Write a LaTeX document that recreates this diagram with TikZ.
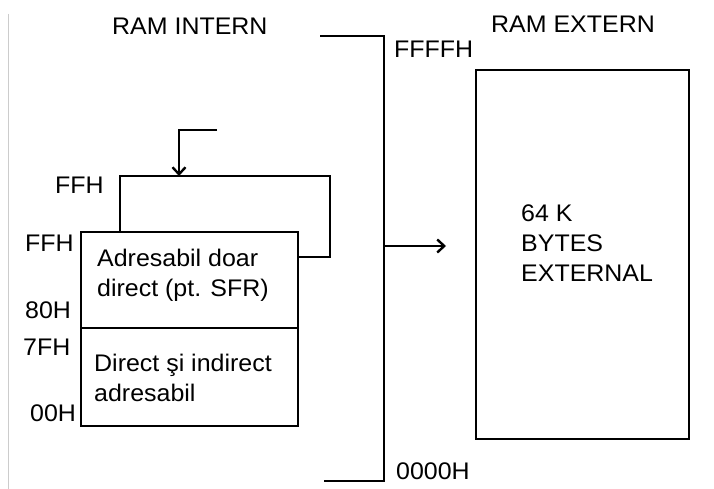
\documentclass[tikz,border=0pt]{standalone}
\usepackage{fontspec}
\newfontfamily\diafont[FakeStretch=1.04]{Liberation Sans}
\usetikzlibrary{arrows.meta}
\tikzset{
  ln/.style={line width=2pt, black},
  lbl/.style={anchor=base west, inner sep=0pt, font=\diafont\fontsize{24}{28}\selectfont},
  memcell/.style={draw, line width=2pt, inner sep=0pt},
  tip/.style={-{Straight Barb[length=7pt,width=13pt,line width=2.4pt]}}
}
\begin{document}
\begin{tikzpicture}[x=1pt,y=-1pt]
\useasboundingbox (0,0) rectangle (714,489);
\fill[white] (0,0) rectangle (714,489);
% faint page edge
\draw[line width=1pt, black!20] (8,14) -- (8,489);

% labels
\node[lbl] (ramint) at (112,34.5) {RAM INTERN};
\node[lbl] (ramext) at (491,32.5) {RAM EXTERN};
\node[lbl] (fffff) at (394,57.5) {FFFFH};
\node[lbl] (zero) at (396,479.5) {0000H};
\node[lbl] (ffa) at (55,193.5) {FFH};
\node[lbl] (ffb) at (25,251.5) {FFH};
\node[lbl] (e80) at (25,318.5) {80H};
\node[lbl] (e7f) at (23,355.5) {7FH};
\node[lbl] (e00) at (30,421.5) {00H};

% internal RAM boxes
\node[memcell, minimum width=217.5pt, minimum height=96pt] (sfr) at (189.25,280) {};
\node[memcell, minimum width=217.5pt, minimum height=98pt] (ind) at (189.25,377) {};
\node[lbl] (t1) at (97,266.5) {Adresabil doar};
\node[lbl] (t2) at (97,296.5) {direct (pt. SFR)};
\node[lbl] (t3) at (94,371.5) {Direct şi indirect};
\node[lbl] (t4) at (94,401.5) {adresabil};

% external RAM box
\node[memcell, minimum width=213pt, minimum height=369pt] (ext) at (582.5,254.5) {};
\node[lbl] (x1) at (521,221.5) {64 K};
\node[lbl] (x2) at (521,251.5) {BYTES};
\node[lbl] (x3) at (521,281.5) {EXTERNAL};

% upper loop (second FFH page)
\coordinate (loopA) at (sfr.north east |- 0,257);
\coordinate (loopB) at (330,257);
\coordinate (loopC) at (330,176);
\coordinate (loopD) at (120,176);
\coordinate (loopE) at (120,232);
\draw[ln] (loopA) -- (loopB) -- (loopC) -- (loopD) -- (loopE);

% small arrow into loop
\coordinate (sa) at (217,130);
\coordinate (sb) at (179,130);
\coordinate (sc) at (179,176);
\draw[ln, tip] (sa) -- (sb) -- (sc);

% bracket
\coordinate (bt1) at (320,36);
\coordinate (bt2) at (383.5,36);
\coordinate (bb2) at (383.5,481);
\coordinate (bb1) at (324,481);
\draw[ln] (bt1) -- (bt2) -- (bb2) -- (bb1);

% arrow to external
\coordinate (am) at (383.5,246);
\coordinate (ae) at (446,246);
\draw[ln, tip] (am) -- (ae);
\end{tikzpicture}
\end{document}
